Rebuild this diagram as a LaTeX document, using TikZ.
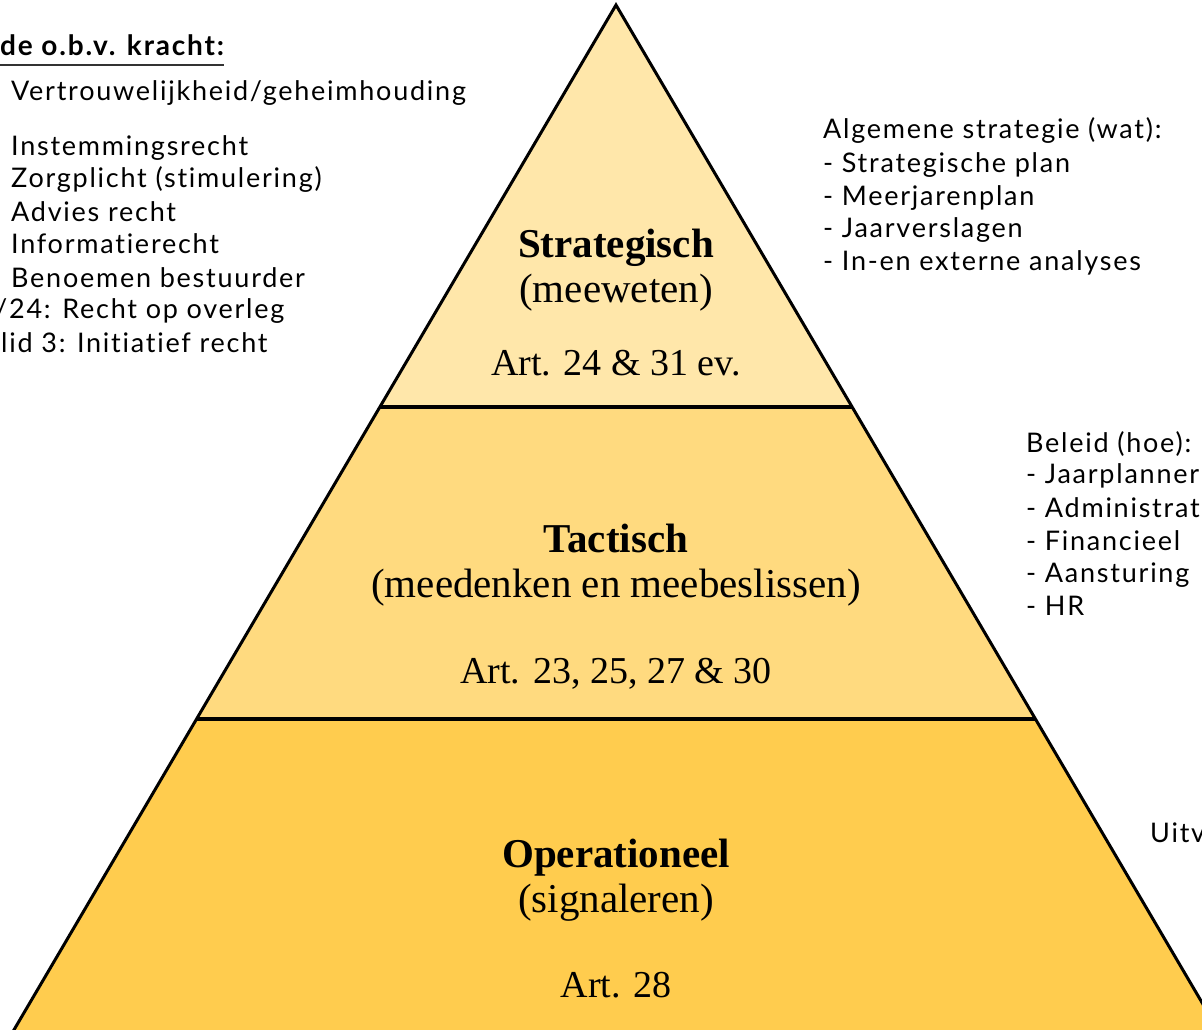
\documentclass[tikz,border=0pt]{standalone}
\usepackage{fontspec}
\setmainfont{Liberation Serif}
\newfontfamily\notefont[LetterSpace=6.5,Ligatures=NoCommon]{Lato}
\definecolor{topgold}{HTML}{FFE7AA}
\definecolor{midgold}{HTML}{FFDA7F}
\definecolor{lowgold}{HTML}{FFCC4E}
\begin{document}
\begin{tikzpicture}[x=1pt,y=-1pt,
    edge/.style={line width=3pt,line join=miter},
    divider/.style={line width=4pt},
    title/.style={font=\bfseries\fontsize{41}{41}\selectfont,anchor=base,inner sep=0},
    subtitle/.style={font=\fontsize{41}{41}\selectfont,anchor=base,inner sep=0},
    article/.style={font=\fontsize{38}{38}\selectfont,anchor=base,inner sep=0},
    note/.style={font=\notefont\fontsize{27}{27}\selectfont,anchor=base west,inner sep=0}]
    \useasboundingbox (0,0) rectangle (1202,1029);
    \clip (0,0) rectangle (1202,1029);
    % pyramid
    \coordinate (apex) at (616,5);
    \coordinate (sl) at (380,407);
    \coordinate (sr) at (852,407);
    \coordinate (tl) at (197,719);
    \coordinate (tr) at (1035,719);
    \coordinate (bl) at (8,1040);
    \coordinate (br) at (1224,1040);
    \fill[topgold] (apex) -- (sr) -- (sl) -- cycle;
    \fill[midgold] (sl) -- (sr) -- (tr) -- (tl) -- cycle;
    \fill[lowgold] (tl) -- (tr) -- (br) -- (bl) -- cycle;
    \draw[edge] (bl) -- (apex) -- (br);
    \draw[divider] (sl) -- (sr);
    \draw[divider] (tl) -- (tr);
    % levels
    \node[title] (strat) at (616,257) {Strategisch};
    \node[subtitle] (stratsub) at (616,302) {(meeweten)};
    \node[article] (stratart) at (616,375) {Art. 24 \& 31 ev.};
    \node[title] (tact) at (616,552) {Tactisch};
    \node[subtitle] (tactsub) at (616,597) {(meedenken en meebeslissen)};
    \node[article] (tactart) at (616,683) {Art. 23, 25, 27 \& 30};
    \node[title] (oper) at (616,867) {Operationeel};
    \node[subtitle] (opersub) at (616,912) {(signaleren)};
    \node[article] (operart) at (616,997) {Art. 28};
    % left notes
    \node[note,font=\notefont\bfseries\fontsize{28}{28}\selectfont] (hdr) at (0,55) {de o.b.v. kracht:};
    \draw[line width=2pt,black!80] ([yshift=-10pt]hdr.base west) -- ([yshift=-10pt]hdr.base east);
    \node[note] (geheim) at (11,100) {Vertrouwelijkheid/geheimhouding};
    \node[note] (instem) at (11,155) {Instemmingsrecht};
    \node[note] (zorg) at (11,187) {Zorgplicht (stimulering)};
    \node[note] (advies) at (11,221) {Advies recht};
    \node[note] (info) at (11,253) {Informatierecht};
    \node[note] (benoem) at (11,287) {Benoemen bestuurder};
    \node[note] (overleg) at (-5,318) {/24: Recht op overleg};
    \node[note] (initiatief) at (1,352) {lid 3: Initiatief recht};
    % right notes
    \node[note] (wat) at (823,138) {Algemene strategie (wat):};
    \node[note] (plan) at (823,172) {- Strategische plan};
    \node[note] (meerjaren) at (823,205) {- Meerjarenplan};
    \node[note] (verslag) at (823,237) {- Jaarverslagen};
    \node[note] (analyse) at (823,270) {- In-en externe analyses};
    \node[note] (hoe) at (1026,452) {Beleid (hoe):};
    \node[note] (jaarplan) at (1026,483) {- Jaarplanner};
    \node[note] (admin) at (1026,517) {- Administrat};
    \node[note] (financ) at (1026,550) {- Financieel};
    \node[note] (aanst) at (1026,582) {- Aansturing};
    \node[note] (hr) at (1026,615) {- HR};
    \node[note] (uitv) at (1150,842) {Uitv};
\end{tikzpicture}
\end{document}
